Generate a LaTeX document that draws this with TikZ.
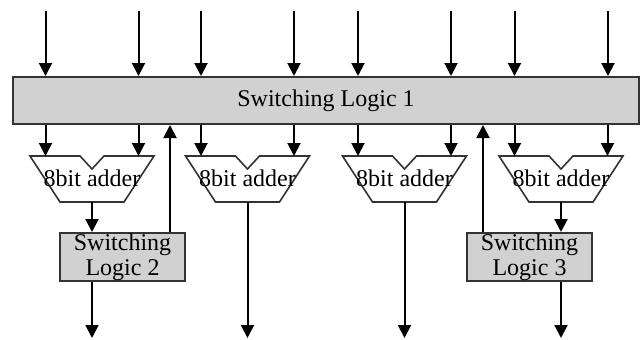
\documentclass[tikz,border=0pt]{standalone}
\usepackage{fontspec}
\setmainfont{Liberation Serif}
\usetikzlibrary{arrows.meta}
\definecolor{boxgray}{gray}{0.82}
\definecolor{edgegray}{gray}{0.2}

\begin{document}
\begin{tikzpicture}[x=0.5pt, y=-0.5pt, font=\fontsize{12}{12.5}\selectfont,
  slbox/.style={draw=edgegray, line width=1pt, fill=boxgray, inner sep=0pt, align=center},
  adder/.style={draw=edgegray, line width=0.8pt, fill=white}]

\useasboundingbox (0,0) rectangle (644,339);

\node [slbox, minimum width=313pt, minimum height=23.5pt] (sl1) at (326,100.5) {Switching Logic 1};
\node [slbox, minimum width=62.5pt, minimum height=24pt]  (sl2) at (122.5,257) {Switching\\Logic 2};
\node [slbox, minimum width=62.5pt, minimum height=24pt]  (sl3) at (529.5,257) {Switching\\Logic 3};

% the four adders
\begin{scope}[shift={(92,0)}]
\filldraw [adder] (-62,156) -- (-12,156) -- (0,169) -- (12,156) -- (62,156) -- (32,202) -- (-32,202) -- cycle;
\node (ad1) at (0,178) {8bit adder};
\coordinate (ad1l) at (-46.5,156);
\coordinate (ad1r) at (46.5,156);
\coordinate (ad1o) at (0,202);
\end{scope}

\begin{scope}[shift={(247.5,0)}]
\filldraw [adder] (-62,156) -- (-12,156) -- (0,169) -- (12,156) -- (62,156) -- (32,202) -- (-32,202) -- cycle;
\node (ad2) at (0,178) {8bit adder};
\coordinate (ad2l) at (-46.5,156);
\coordinate (ad2r) at (46.5,156);
\coordinate (ad2o) at (0,202);
\end{scope}

\begin{scope}[shift={(404.5,0)}]
\filldraw [adder] (-62,156) -- (-12,156) -- (0,169) -- (12,156) -- (62,156) -- (32,202) -- (-32,202) -- cycle;
\node (ad3) at (0,178) {8bit adder};
\coordinate (ad3l) at (-46.5,156);
\coordinate (ad3r) at (46.5,156);
\coordinate (ad3o) at (0,202);
\end{scope}

\begin{scope}[shift={(561,0)}]
\filldraw [adder] (-62,156) -- (-12,156) -- (0,169) -- (12,156) -- (62,156) -- (32,202) -- (-32,202) -- cycle;
\node (ad4) at (0,178) {8bit adder};
\coordinate (ad4l) at (-46.5,156);
\coordinate (ad4r) at (46.5,156);
\coordinate (ad4o) at (0,202);
\end{scope}

\coordinate (up2) at (170,0);
\coordinate (up3) at (483,0);
\coordinate (out1) at (92,338);
\coordinate (out2) at (247.5,338);
\coordinate (out3) at (404.5,338);
\coordinate (out4) at (561,338);

\begin{scope}[line width=1pt, -{Triangle[width=6.5pt,length=6.5pt]}]

% inputs into switching logic 1
\draw (45.5,11)  coordinate (in1) -- (in1 |- sl1.north);
\draw (138.5,11) coordinate (in2) -- (in2 |- sl1.north);
\draw (201,11)   coordinate (in3) -- (in3 |- sl1.north);
\draw (294,11)   coordinate (in4) -- (in4 |- sl1.north);
\draw (358,11)   coordinate (in5) -- (in5 |- sl1.north);
\draw (451,11)   coordinate (in6) -- (in6 |- sl1.north);
\draw (514.5,11) coordinate (in7) -- (in7 |- sl1.north);
\draw (608,11)   coordinate (in8) -- (in8 |- sl1.north);

% switching logic 1 into the adders
\draw (sl1.south -| ad1l) -- (ad1l);
\draw (sl1.south -| ad1r) -- (ad1r);
\draw (sl1.south -| ad2l) -- (ad2l);
\draw (sl1.south -| ad2r) -- (ad2r);
\draw (sl1.south -| ad3l) -- (ad3l);
\draw (sl1.south -| ad3r) -- (ad3r);
\draw (sl1.south -| ad4l) -- (ad4l);
\draw (sl1.south -| ad4r) -- (ad4r);

% adder outputs
\draw (ad1o) -- (ad1o |- sl2.north);
\draw (ad4o) -- (ad4o |- sl3.north);
\draw (ad2o) -- (out2);
\draw (ad3o) -- (out3);
\draw (out1 |- sl2.south) -- (out1);
\draw (out4 |- sl3.south) -- (out4);

% feedback into switching logic 1
\draw (sl2.north -| up2) -- (sl1.south -| up2);
\draw (sl3.north -| up3) -- (sl1.south -| up3);
\end{scope}

\end{tikzpicture}
\end{document}
